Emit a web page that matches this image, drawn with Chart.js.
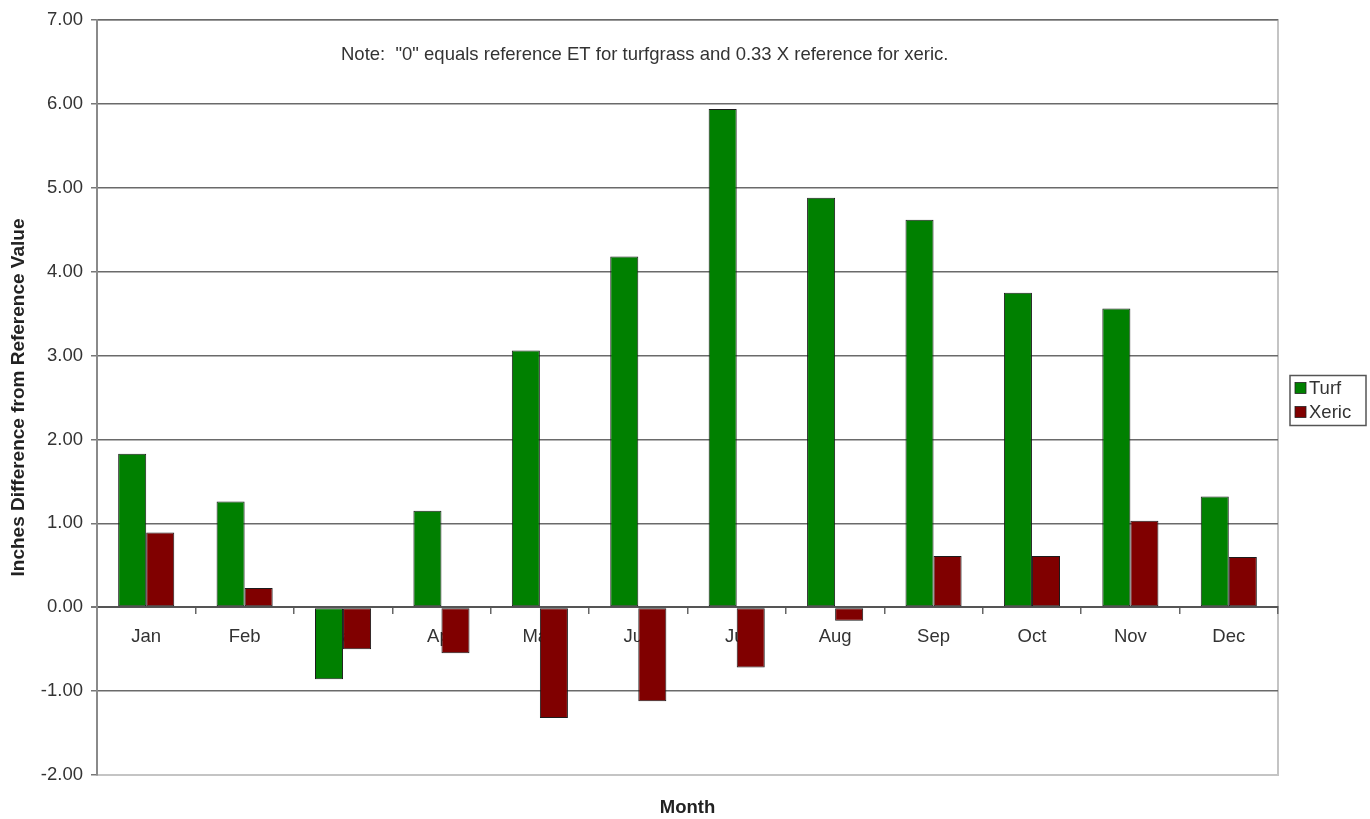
<!DOCTYPE html>
<html>
<head>
<meta charset="utf-8">
<script src="https://cdn.jsdelivr.net/npm/chart.js@4/dist/chart.umd.min.js"></script>
<style>
  html, body { margin: 0; padding: 0; background: #ffffff; }
  #wrap { width: 1370px; height: 819px; }
</style>
</head>
<body>
<div id="wrap"><canvas id="c" width="1370" height="819"></canvas></div>
<script>
// Monthly difference from reference ET, in inches
const months = ['Jan', 'Feb', 'Mar', 'Apr', 'May', 'Jun', 'Jul', 'Aug', 'Sep', 'Oct', 'Nov', 'Dec'];
const turf   = [1.83, 1.26, -0.86, 1.15, 3.06, 4.18, 5.94, 4.88, 4.62, 3.75, 3.56, 1.32];
const xeric  = [0.89, 0.23, -0.50, -0.55, -1.32, -1.12, -0.72, -0.16, 0.61, 0.61, 1.03, 0.60];
const seriesNames = ['Turf', 'Xeric'];
const seriesColors = ['#008000', '#800000'];
const yTicks = [-2, -1, 0, 1, 2, 3, 4, 5, 6, 7];
const noteText = 'Note:  "0" equals reference ET for turfgrass and 0.33 X reference for xeric.';
const xTitle = 'Month';
const yTitle = 'Inches Difference from Reference Value';

const FONT = "'Liberation Sans', Arial, sans-serif";
const TEXT = '#333333';
const FS = 18.5;

// Light frame round the plot area, the note inside it and the category title below
const framePlugin = {
  id: 'frame',
  beforeDraw(chart) {
    const a = chart.chartArea, ctx = chart.ctx;
    ctx.save();
    ctx.strokeStyle = '#c4c4c4';
    ctx.lineWidth = 2;
    ctx.strokeRect(a.left, a.top, a.right - a.left, a.bottom - a.top);
    ctx.restore();
  },
  afterDraw(chart) {
    const a = chart.chartArea, ctx = chart.ctx;
    ctx.save();
    ctx.font = FS + 'px ' + FONT;
    ctx.fillStyle = TEXT;
    ctx.textBaseline = 'middle';
    ctx.textAlign = 'left';
    ctx.fillText(noteText, a.left + 244, a.top + 35);
    ctx.font = 'bold ' + FS + 'px ' + FONT;
    ctx.fillStyle = '#222222';
    ctx.textAlign = 'center';
    ctx.fillText(xTitle, (a.left + a.right) / 2, a.bottom + 33);
    ctx.restore();
  }
};

// Boxed legend to the right of the plot
const boxLegend = {
  id: 'boxLegend',
  afterDraw(chart) {
    const a = chart.chartArea, ctx = chart.ctx;
    const x = a.right + 12, w = 76, rowH = 24;
    const n = chart.data.datasets.length;
    const h = n * rowH + 2;
    const y = (a.top + a.bottom) / 2 + 3 - h / 2;
    ctx.save();
    ctx.strokeStyle = '#555555';
    ctx.lineWidth = 1.5;
    ctx.strokeRect(x, y, w, h);
    ctx.font = FS + 'px ' + FONT;
    ctx.textBaseline = 'middle';
    ctx.textAlign = 'left';
    chart.data.datasets.forEach((ds, i) => {
      const cy = y + 1 + rowH * i + rowH / 2;
      ctx.fillStyle = ds.backgroundColor;
      ctx.fillRect(x + 5, cy - 6, 11, 11);
      ctx.strokeStyle = '#222222';
      ctx.lineWidth = 0.8;
      ctx.strokeRect(x + 5, cy - 6, 11, 11);
      ctx.fillStyle = TEXT;
      ctx.fillText(ds.label, x + 19, cy);
    });
    ctx.restore();
  }
};

new Chart(document.getElementById('c'), {
  type: 'bar',
  data: {
    labels: months,
    datasets: [
      { label: seriesNames[0], data: turf, backgroundColor: seriesColors[0], borderColor: '#1c1c1c', borderWidth: 1, borderSkipped: false },
      { label: seriesNames[1], data: xeric, backgroundColor: seriesColors[1], borderColor: '#1c1c1c', borderWidth: 1, borderSkipped: false }
    ]
  },
  options: {
    responsive: false,
    animation: false,
    layout: { padding: { left: 0, right: 92, top: 20, bottom: 44 } },
    datasets: { bar: { categoryPercentage: 0.57, barPercentage: 1.0 } },
    plugins: {
      legend: { display: false },
      tooltip: { enabled: false }
    },
    scales: {
      x: {
        type: 'category',
        position: { y: 0 },
        afterFit(scale) { scale.height = 0; },
        grid: { display: true, offset: true, drawOnChartArea: false, drawTicks: true, tickLength: 6, color: '#666666', lineWidth: 1.5 },
        border: { display: true, color: '#555555', width: 2 },
        ticks: { color: TEXT, font: { family: FONT, size: FS }, padding: 13, maxRotation: 0, autoSkip: false }
      },
      y: {
        min: -2,
        max: 7,
        afterBuildTicks(scale) { scale.ticks = yTicks.map(v => ({ value: v })); },
        afterFit(scale) { scale.width = 97; },
        grid: {
          color: ctx => (ctx.tick && ctx.tick.value === -2) ? '#c4c4c4' : '#6a6a6a',
          lineWidth: ctx => (ctx.tick && ctx.tick.value === 0) ? 2 : 1.5,
          tickLength: 6,
          tickColor: '#777777'
        },
        border: { display: true, color: '#8a8a8a', width: 2 },
        ticks: {
          color: TEXT,
          font: { family: FONT, size: FS },
          padding: 8,
          callback: v => Number(v).toFixed(2)
        },
        title: {
          display: true,
          text: yTitle,
          color: '#222222',
          font: { family: FONT, size: 19, weight: 'bold' },
          padding: { top: 7, bottom: 0 }
        }
      }
    }
  },
  plugins: [framePlugin, boxLegend]
});
</script>
</body>
</html>
